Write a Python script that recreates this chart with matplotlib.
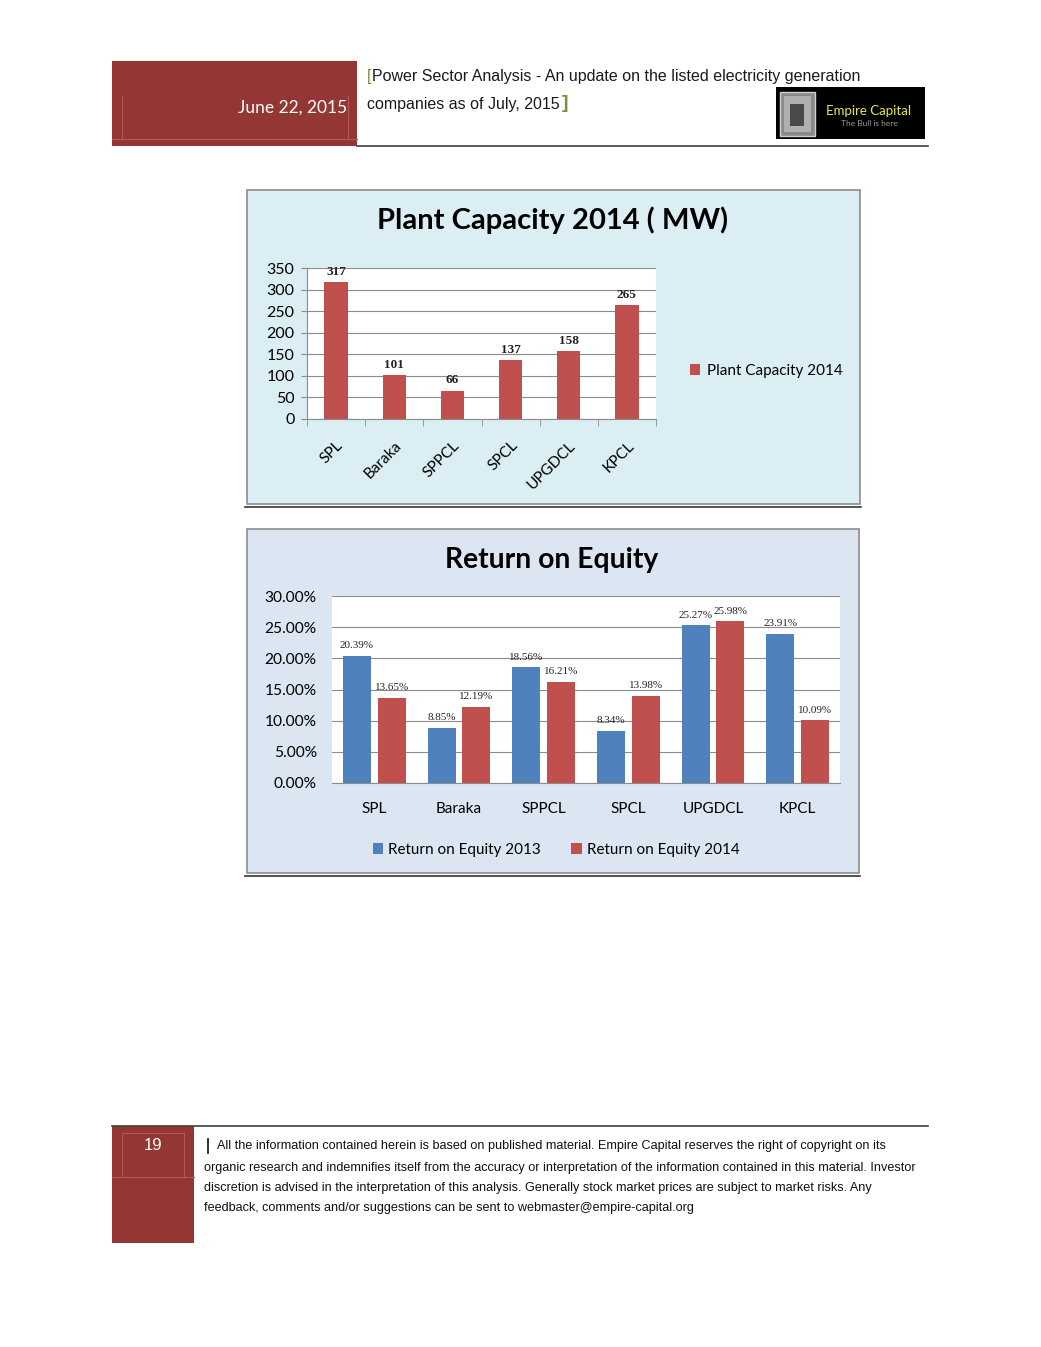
import numpy as np
import matplotlib
matplotlib.use("Agg")
import matplotlib.pyplot as plt
from matplotlib.patches import Rectangle
from matplotlib.ticker import MultipleLocator, FuncFormatter

W, H = 1041, 1347
RED_DARK = "#943634"
BAR_RED = "#C0504D"
BAR_BLUE = "#4F81BD"
GRID = "#8C8C8C"
SANS = ["Lato", "DejaVu Sans"]
NARROW = ["Liberation Sans", "DejaVu Sans"]
SERIF = ["Liberation Serif", "DejaVu Serif"]

# ---- data ----
companies = ["SPL", "Baraka", "SPPCL", "SPCL", "UPGDCL", "KPCL"]
capacity_2014 = [317, 101, 66, 137, 158, 265]
roe_2013 = [20.39, 8.85, 18.56, 8.34, 25.27, 23.91]
roe_2014 = [13.65, 12.19, 16.21, 13.98, 25.98, 10.09]

date_text = "June 22, 2015"
header_l1 = "Power Sector Analysis - An update on the listed electricity generation"
header_l2 = "companies as of July, 2015"
footer_lines = [
    "All the information contained herein is based on published material. Empire Capital reserves the right of copyright on its",
    "organic research and indemnifies itself from the accuracy or interpretation of the information contained in this material. Investor",
    "discretion is advised in the interpretation of this analysis. Generally stock market prices are subject to market risks. Any",
    "feedback, comments and/or suggestions can be sent to webmaster@empire-capital.org",
]
page_no = "19"

fig = plt.figure(figsize=(W / 100, H / 100), dpi=100)
fig.patch.set_facecolor("white")

# page-level drawing layer in pixel coords
bg = fig.add_axes([0, 0, 1, 1], zorder=0)
bg.set_xlim(0, W); bg.set_ylim(H, 0); bg.axis("off")


def px_axes(x0, y0, x1, y1, **kw):
    return fig.add_axes([x0 / W, 1 - y1 / H, (x1 - x0) / W, (y1 - y0) / H], **kw)


# ===== header =====
bg.add_patch(Rectangle((112, 61), 245, 85, color=RED_DARK, lw=0))
bg.plot([122, 122], [96, 138], color="#B35A58", lw=0.8)
bg.plot([348, 348], [96, 138], color="#B35A58", lw=0.8)
bg.plot([112, 357], [138.5, 138.5], color="#B35A58", lw=0.8)
bg.text(347, 108, date_text, color="white", fontsize=12.5, family=SANS,
        ha="right", va="center")
bg.plot([357, 928], [146, 146], color="#404040", lw=1.2)
bg.text(367, 77, "[", color="#76923C", fontsize=12, family=NARROW, ha="left", va="center")
bg.text(372, 77, header_l1, color="#1a1a1a", fontsize=11.5, family=NARROW,
        ha="left", va="center")
t2 = bg.text(367, 105, header_l2, color="#1a1a1a", fontsize=11.5, family=NARROW,
             ha="left", va="center")
fig.canvas.draw()
ext = t2.get_window_extent()
xend = bg.transData.inverted().transform((ext.x1, ext.y0))[0]
bg.text(xend + 2, 104, "]", color="#76923C", fontsize=14, family=NARROW,
        ha="left", va="center", fontweight="bold")

# logo
bg.add_patch(Rectangle((776, 87), 149, 52, color="black", lw=0))
bg.add_patch(Rectangle((780, 92), 35, 44, facecolor="#8a8a8a", edgecolor="#d0d0d0", lw=1))
bg.add_patch(Rectangle((784, 96), 27, 36, facecolor="#b0b0b0", edgecolor="none"))
bg.add_patch(Rectangle((790, 104), 14, 22, facecolor="#4a4a4a", edgecolor="none"))
bg.text(869, 111, "Empire Capital", color="#E8E840", fontsize=9.5, family=SANS,
        ha="center", va="center")
bg.text(869, 124, "The Bull is here", color="#9a9a9a", fontsize=6, family=SANS,
        ha="center", va="center")

# ===== chart 1 frame =====
bg.add_patch(Rectangle((247, 190), 613, 314, facecolor="#DBEEF3", edgecolor="#8C8C8C", lw=1.2))
bg.plot([245, 861], [507, 507], color="#333333", lw=1.2)
bg.text(553, 220, "Plant Capacity 2014 ( MW)", fontsize=21, fontweight="bold",
        family=SANS, ha="center", va="center", color="black")

ax1 = px_axes(307, 268, 656, 419, zorder=2)
ax1.set_facecolor("white")
x = np.arange(len(companies))
b1 = ax1.bar(x, capacity_2014, width=0.4, color=BAR_RED, zorder=3,
             label="Plant Capacity 2014")
for xi, v in zip(x, capacity_2014):
    ax1.annotate(str(v), (xi, v), xytext=(0, 3), textcoords="offset points",
                 ha="center", va="bottom", fontsize=9.5, family=SERIF,
                 fontweight="bold", color="#222222")
ax1.set_xlim(-0.5, 5.5)
ax1.set_ylim(0, 350)
ax1.yaxis.set_major_locator(MultipleLocator(50))
ax1.grid(axis="y", color=GRID, lw=0.8, zorder=0)
for s in ["top", "right"]:
    ax1.spines[s].set_visible(False)
ax1.spines["left"].set_color(GRID)
ax1.spines["bottom"].set_color(GRID)
ax1.tick_params(axis="y", length=4, color=GRID, labelsize=11.5, pad=5)
ax1.set_yticklabels([str(int(t)) for t in ax1.get_yticks()], family=SANS)
ax1.set_xticks(x)
ax1.set_xticks(np.arange(-0.5, 6, 1), minor=True)
ax1.tick_params(axis="x", which="major", length=0, pad=14)
ax1.tick_params(axis="x", which="minor", length=5, color=GRID)
ax1.set_xticklabels(companies, rotation=45, ha="right", rotation_mode="anchor",
                    family=SANS, fontsize=11)
ax1.legend(handles=[b1], loc="center", bbox_to_anchor=(766 / W, 1 - 371 / H),
           bbox_transform=fig.transFigure, frameon=False,
           handlelength=0.7, handleheight=0.7, handletextpad=0.4,
           prop={"family": SANS, "size": 11})

# ===== chart 2 frame =====
bg.add_patch(Rectangle((247, 529), 612, 344, facecolor="#DCE6F2", edgecolor="#8C8C8C", lw=1.2))
bg.plot([245, 860], [876, 876], color="#333333", lw=1.2)
bg.text(552, 560, "Return on Equity", fontsize=20.3, fontweight="bold",
        family=SANS, ha="center", va="center", color="black")

ax2 = px_axes(332, 596, 840, 783, zorder=2)
ax2.set_facecolor("white")
w = 0.33
r13 = np.array(roe_2013) / 100
r14 = np.array(roe_2014) / 100
bb = ax2.bar(x - 0.205, r13, width=w, color=BAR_BLUE, zorder=3, label="Return on Equity 2013")
br = ax2.bar(x + 0.205, r14, width=w, color=BAR_RED, zorder=3, label="Return on Equity 2014")
for xs, vals, raw in [(x - 0.205, r13, roe_2013), (x + 0.205, r14, roe_2014)]:
    for xi, v, rv in zip(xs, vals, raw):
        ax2.annotate(f"{rv:.2f}%", (xi, v), xytext=(0, 4), textcoords="offset points",
                     ha="center", va="bottom", fontsize=8, family=SERIF, color="#222222")
ax2.set_xlim(-0.5, 5.5)
ax2.set_ylim(0, 0.30)
ax2.yaxis.set_major_locator(MultipleLocator(0.05))
ax2.yaxis.set_major_formatter(FuncFormatter(lambda v, p: f"{v * 100:.2f}%"))
ax2.grid(axis="y", color=GRID, lw=0.8, zorder=0)
for s in ["top", "right", "left"]:
    ax2.spines[s].set_visible(False)
ax2.spines["bottom"].set_color(GRID)
ax2.tick_params(axis="y", length=0, labelsize=11.2, pad=11)
for lab in ax2.get_yticklabels():
    lab.set_family(SANS)
ax2.set_xticks(x)
ax2.set_xticklabels(companies, family=SANS, fontsize=11)
ax2.tick_params(axis="x", length=0, pad=14)
ax2.legend(handles=[bb, br], loc="center", bbox_to_anchor=(556 / W, 1 - 850 / H),
           bbox_transform=fig.transFigure, frameon=False, ncol=2,
           handlelength=0.7, handleheight=0.7, handletextpad=0.3, columnspacing=2.0,
           prop={"family": SANS, "size": 11})

# ===== footer =====
bg.plot([112, 928], [1126, 1126], color="#404040", lw=1.2)
bg.add_patch(Rectangle((112, 1126), 82, 117, color=RED_DARK, lw=0))
bg.plot([122, 122, 184, 184], [1177, 1133, 1133, 1177], color="#B35A58", lw=0.8)
bg.plot([112, 194], [1177, 1177], color="#B35A58", lw=0.8)
bg.text(153, 1146, page_no, color="white", fontsize=12, family=NARROW, ha="center", va="center")
bg.plot([208, 208], [1139, 1153], color="#222222", lw=1.3)
ys = [1146, 1168, 1188, 1208]
for i, (yy, line) in enumerate(zip(ys, footer_lines)):
    bg.text(217 if i == 0 else 204, yy, line, fontsize=9.1, family=NARROW,
            ha="left", va="center", color="#111111")

fig.savefig("out.png", dpi=100)
